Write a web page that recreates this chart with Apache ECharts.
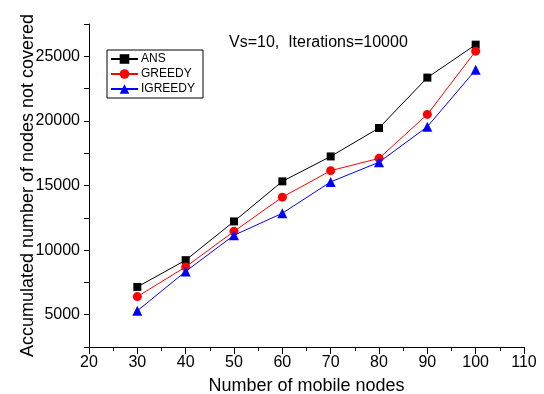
<!DOCTYPE html>
<html>
<head>
<meta charset="utf-8">
<script src="https://cdn.jsdelivr.net/npm/echarts@6/dist/echarts.min.js"></script>
<style>
  html, body { margin: 0; padding: 0; background: #fff; }
  #chart { width: 544px; height: 394px; }
</style>
</head>
<body>
<div id="chart"></div>
<script>
  // data
  const nodes = [30, 40, 50, 60, 70, 80, 90, 100];
  const ans = [7150, 9220, 12220, 15320, 17250, 19450, 23350, 25900];
  const greedy = [6400, 8700, 11450, 14100, 16150, 17100, 20500, 25400];
  const igreedy = [5300, 8350, 11150, 12850, 15280, 16800, 19550, 23950];
  const note = 'Vs=10,  Iterations=10000';

  const font = '"Liberation Sans", Arial, sans-serif';

  function pairs(ys) {
    return nodes.map((x, i) => [x, ys[i]]);
  }

  let myChart = echarts.init(document.getElementById('chart'));
  let option = {
    animation: false,
    textStyle: { fontFamily: font, color: '#000' },
    title: {
      text: note,
      left: 229,
      top: 35,
      padding: 0,
      textStyle: { fontFamily: font, fontSize: 16, fontWeight: 'normal', color: '#000' }
    },
    legend: {
      orient: 'vertical',
      left: 107,
      top: 50,
      padding: [3, 8, 3, 3],
      itemGap: 3,
      itemWidth: 27,
      itemHeight: 12,
      borderColor: '#000',
      borderWidth: 1,
      textStyle: { fontFamily: font, fontSize: 12, color: '#000', padding: [0, 0, 0, -2] },
      data: ['ANS', 'GREEDY', 'IGREEDY']
    },
    grid: { left: 89, right: 20, top: 24, bottom: 47, outerBoundsMode: 'none', containLabel: false },
    xAxis: {
      type: 'value',
      min: 20,
      max: 110,
      interval: 10,
      name: 'Number of mobile nodes',
      nameLocation: 'middle',
      nameGap: 30,
      nameMoveOverlap: false,
      nameTextStyle: { fontFamily: font, fontSize: 18, color: '#000' },
      axisLine: { lineStyle: { color: '#000', width: 1 } },
      axisTick: { inside: false, length: 7, lineStyle: { color: '#000' } },
      minorTick: { show: true, splitNumber: 2, length: 4, lineStyle: { color: '#000' } },
      axisLabel: { fontFamily: font, fontSize: 16, color: '#000', margin: 8 },
      splitLine: { show: false }
    },
    yAxis: {
      type: 'value',
      min: 2500,
      max: 27500,
      interval: 2500,
      name: 'Accumulated number of nodes not covered',
      nameLocation: 'middle',
      nameGap: 52,
      nameMoveOverlap: false,
      nameTextStyle: { fontFamily: font, fontSize: 18, color: '#000' },
      axisLine: { show: true, lineStyle: { color: '#000', width: 1 } },
      axisTick: { show: true, length: 5, lineStyle: { color: '#000' } },
      axisLabel: {
        fontFamily: font, fontSize: 16, color: '#000', margin: 9,
        formatter: v => (v % 5000 === 0 ? String(v) : '')
      },
      splitLine: { show: false }
    },
    series: [
      {
        name: 'ANS',
        type: 'line',
        data: pairs(ans),
        symbol: 'rect',
        symbolSize: 8,
        itemStyle: { color: '#000' },
        lineStyle: { color: '#000', width: 1 },
        z: 3
      },
      {
        name: 'GREEDY',
        type: 'line',
        data: pairs(greedy),
        symbol: 'circle',
        symbolSize: 9,
        itemStyle: { color: '#ff0000' },
        lineStyle: { color: '#ff0000', width: 1 },
        z: 4
      },
      {
        name: 'IGREEDY',
        type: 'line',
        data: pairs(igreedy),
        symbol: 'triangle',
        symbolSize: 10,
        itemStyle: { color: '#0000ff' },
        lineStyle: { color: '#0000ff', width: 1 },
        z: 5
      }
    ]
  };
  myChart.setOption(option);
</script>
</body>
</html>
